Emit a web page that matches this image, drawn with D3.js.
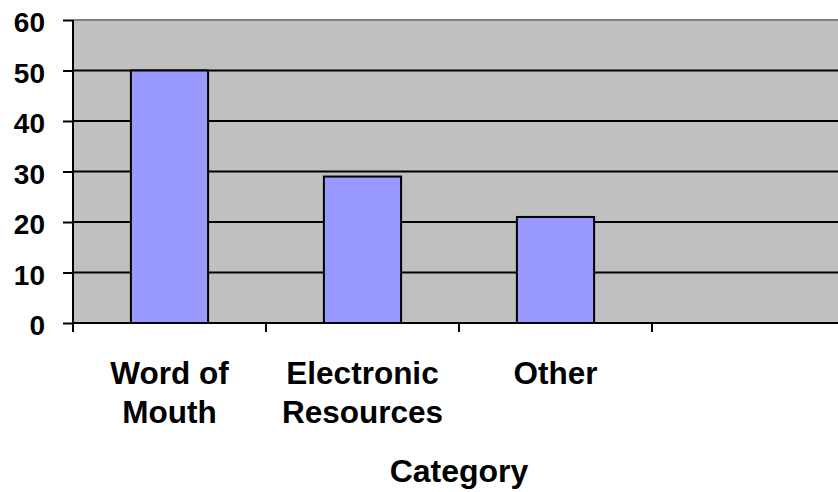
<!DOCTYPE html>
<html>
<head>
<meta charset="utf-8">
<script src="https://cdn.jsdelivr.net/npm/d3@7"></script>
<style>
  html, body { margin: 0; padding: 0; background: #ffffff; }
  svg { display: block; }
  text { font-family: "Liberation Sans", Arial, sans-serif; font-weight: bold; fill: #000; }
</style>
</head>
<body>
<script>
// Survey counts by category
const categories = ["Word of Mouth", "Electronic Resources", "Other", ""];
const categoryLines = [["Word of", "Mouth"], ["Electronic", "Resources"], ["Other"], []];
const values = [50, 29, 21];
const yTicks = [0, 10, 20, 30, 40, 50, 60];
const axisTitle = "Category";

const W = 838, H = 492;
const plot = { left: 73, top: 20, right: 845, bottom: 323 };

const svg = d3.select("body").append("svg")
  .attr("width", W).attr("height", H);

const y = d3.scaleLinear().domain([0, 60]).range([plot.bottom, plot.top]);
const slot = d3.scaleBand().domain(d3.range(categories.length))
  .range([plot.left, plot.right]).padding(0);

// plot background
svg.append("rect")
  .attr("x", plot.left).attr("y", plot.top)
  .attr("width", plot.right - plot.left).attr("height", plot.bottom - plot.top)
  .attr("fill", "#c0c0c0");

// top border
svg.append("line")
  .attr("x1", plot.left).attr("x2", plot.right)
  .attr("y1", y(60)).attr("y2", y(60))
  .attr("stroke", "#808080").attr("stroke-width", 2);

// horizontal gridlines
svg.append("g").selectAll("line")
  .data(yTicks.filter(t => t > 0 && t < 60))
  .join("line")
  .attr("x1", plot.left).attr("x2", plot.right)
  .attr("y1", d => y(d)).attr("y2", d => y(d))
  .attr("stroke", "#000").attr("stroke-width", 2);

// bars
const barFrac = 0.4;
svg.append("g").selectAll("rect")
  .data(values)
  .join("rect")
  .attr("x", (d, i) => slot(i) + slot.bandwidth() * (1 - barFrac) / 2)
  .attr("width", slot.bandwidth() * barFrac)
  .attr("y", d => y(d))
  .attr("height", d => y(0) - y(d))
  .attr("fill", "#9999ff")
  .attr("stroke", "#000").attr("stroke-width", 2);

// y axis
const yAxis = svg.append("g")
  .attr("transform", `translate(${plot.left},0)`)
  .call(d3.axisLeft(y).tickValues(yTicks).tickSize(10).tickPadding(18));
yAxis.select(".domain").attr("stroke", "#000").attr("stroke-width", 2)
  .attr("d", `M0,${y(60)}V${y(0)}`);
yAxis.selectAll(".tick line").attr("stroke", "#000").attr("stroke-width", 2);
yAxis.selectAll(".tick text")
  .attr("dy", "0.42em")
  .style("font-size", "28px")
  .style("font-family", "'Liberation Sans', Arial, sans-serif")
  .style("font-weight", "bold");

// x axis line and slot boundary ticks
svg.append("line")
  .attr("x1", plot.left).attr("x2", plot.right)
  .attr("y1", y(0)).attr("y2", y(0))
  .attr("stroke", "#000").attr("stroke-width", 2);
const bounds = d3.range(categories.length).map(i => slot(i)).concat([plot.right]);
svg.append("g").selectAll("line")
  .data(bounds)
  .join("line")
  .attr("x1", d => d).attr("x2", d => d)
  .attr("y1", y(0)).attr("y2", y(0) + 9)
  .attr("stroke", "#000").attr("stroke-width", 2);

// category labels
const lbl = svg.append("g").selectAll("text")
  .data(categoryLines)
  .join("text")
  .attr("text-anchor", "middle")
  .attr("x", (d, i) => slot(i) + slot.bandwidth() / 2)
  .attr("y", 384)
  .style("font-size", "31.5px");
lbl.selectAll("tspan")
  .data((d, i) => d.map(s => ({ s, i })))
  .join("tspan")
  .attr("x", d => slot(d.i) + slot.bandwidth() / 2)
  .attr("dy", (d, j) => j === 0 ? 0 : 39)
  .text(d => d.s);

// axis title
svg.append("text")
  .attr("x", (plot.left + plot.right) / 2)
  .attr("y", 482)
  .attr("text-anchor", "middle")
  .style("font-size", "32px")
  .text(axisTitle);
</script>
</body>
</html>
